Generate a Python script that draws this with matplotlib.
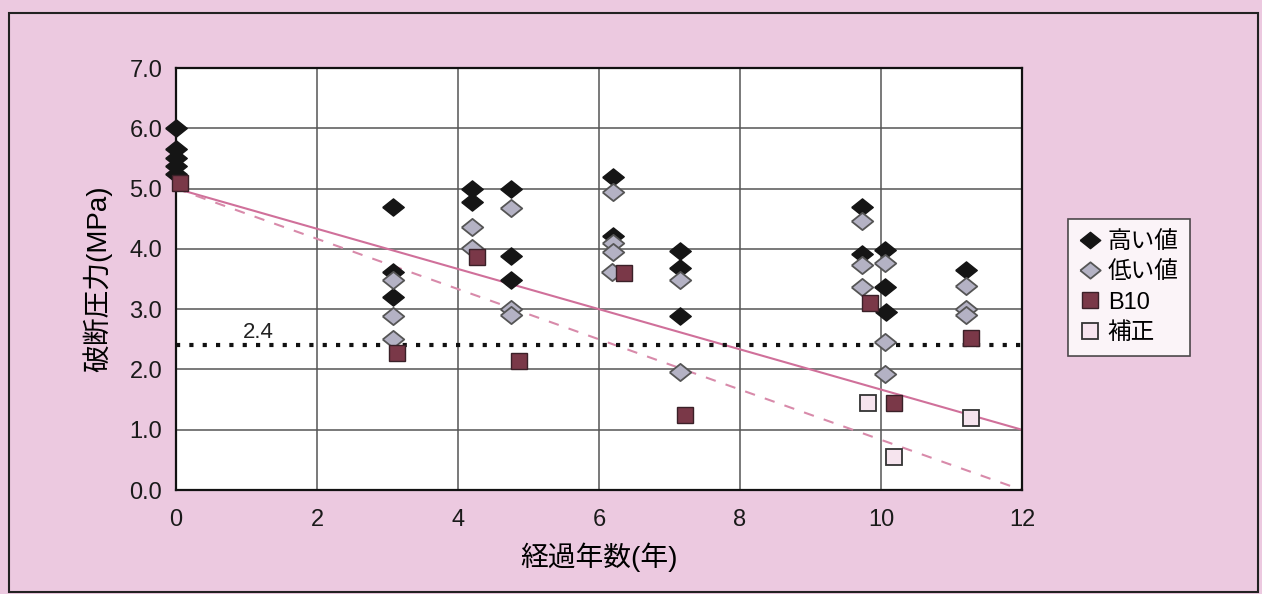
import numpy as np
import matplotlib.pyplot as plt
from matplotlib.patches import Rectangle

plt.rcParams['font.family'] = ['Liberation Sans', 'Noto Sans CJK JP', 'DejaVu Sans']

# 高い値 (max per sample)
x_high = [0, 0, 0, 0, 0,
          3.08, 3.08, 3.08,
          4.2, 4.2, 4.75, 4.75, 4.75,
          6.2, 6.2,
          7.15, 7.15, 7.15,
          9.73, 9.73, 10.05, 10.05, 10.07,
          11.2]
y_high = [6.0, 5.65, 5.5, 5.38, 5.25,
          4.7, 3.62, 3.2,
          5.0, 4.78, 5.0, 3.88, 3.48,
          5.2, 4.22,
          3.97, 3.68, 2.88,
          4.7, 3.92, 3.98, 3.36, 2.95,
          3.65]

# 低い値 (min per sample)
x_low = [3.08, 3.08, 3.08,
         4.2, 4.2, 4.75, 4.75, 4.75,
         6.2, 6.2, 6.2, 6.18,
         7.15, 7.15,
         9.73, 9.73, 9.73, 10.05, 10.05, 10.05,
         11.2, 11.2, 11.2]
y_low = [3.48, 2.88, 2.5,
         4.37, 4.02, 4.68, 3.0, 2.9,
         4.95, 4.1, 3.95, 3.62,
         3.48, 1.95,
         4.47, 3.73, 3.36, 3.76, 2.45, 1.93,
         3.38, 3.0, 2.9]

# B10
x_b10 = [0.05, 3.14, 4.27, 4.87, 6.36, 7.22, 9.85, 10.18, 11.27]
y_b10 = [5.1, 2.28, 3.86, 2.14, 3.6, 1.25, 3.1, 1.45, 2.52]

# 補正
x_hosei = [9.82, 10.18, 11.28]
y_hosei = [1.45, 0.55, 1.2]

# trend lines, both start from 5.0 MPa
x_trend = [0, 12]
y_trend_solid = [5.0, 1.0]
y_trend_dash = [5.0, 0.0]
limit = 2.4

pink_bg = '#ecc9e0'
diamond = [(-1, 0), (0, 0.8), (1, 0), (0, -0.8), (-1, 0)]

fig = plt.figure(figsize=(12.62, 5.94), dpi=100, facecolor=pink_bg)
ax = fig.add_axes([0.1395, 0.175, 0.6703, 0.7105])
ax.set_facecolor('white')

ax.set_xlim(0, 12)
ax.set_ylim(0, 7)
ax.set_xticks(np.arange(0, 13, 2))
ax.set_yticks(np.arange(0, 7.1, 1.0))
ax.set_yticklabels([f'{v:.1f}' for v in np.arange(0, 7.1, 1.0)])
ax.grid(True, color='#555555', linewidth=1.1)
ax.set_axisbelow(True)
for s in ax.spines.values():
    s.set_color('#111111')
    s.set_linewidth(1.6)
ax.tick_params(axis='both', labelsize=17, length=0, colors='#1a1a1a')
ax.tick_params(axis='x', pad=14)
ax.tick_params(axis='y', pad=10)

ax.plot(x_trend, y_trend_solid, color='#d0709a', linewidth=1.5, zorder=2)
ax.plot(x_trend, y_trend_dash, color='#d88aaa', linewidth=1.5,
        linestyle=(0, (5, 5)), zorder=2)
ax.axhline(limit, color='#111111', linewidth=3, linestyle=(0, (1, 2.2)), zorder=2)
ax.text(0.95, limit + 0.13, '2.4', fontsize=16, color='#222222')

ax.plot(x_high, y_high, linestyle='none', marker=diamond, markersize=15.5,
        markerfacecolor='#151515', markeredgecolor='#151515', zorder=4,
        clip_on=False, label='高い値')
ax.plot(x_low, y_low, linestyle='none', marker=diamond, markersize=15.5,
        markerfacecolor='#b4b2c4', markeredgecolor='#555555', markeredgewidth=1.3,
        zorder=5, label='低い値')
ax.plot(x_b10, y_b10, linestyle='none', marker='s', markersize=12,
        markerfacecolor='#7a3848', markeredgecolor='#3a2028', zorder=6,
        clip_on=False, label='B10')
ax.plot(x_hosei, y_hosei, linestyle='none', marker='s', markersize=12,
        markerfacecolor='#f6e4ee', markeredgecolor='#333333', markeredgewidth=1.3,
        zorder=6, label='補正')

ax.set_xlabel('経過年数(年)', fontsize=20, labelpad=8)
ax.set_ylabel('破断圧力(MPa)', fontsize=20, labelpad=12)

leg = ax.legend(loc='center left', bbox_to_anchor=(1.04, 0.48), fontsize=17,
                frameon=True, fancybox=False, edgecolor='#222222',
                handlelength=0.9, handletextpad=0.3, borderpad=0.5,
                labelspacing=0.35, markerscale=0.95)
leg.get_frame().set_linewidth(1.2)

# outer frame round the whole chart
fig.patches.append(Rectangle((0.007, 0.003), 0.99, 0.975, transform=fig.transFigure,
                             fill=False, edgecolor='#222222', linewidth=1.5))

fig.savefig('out.png', dpi=100, facecolor=pink_bg)
